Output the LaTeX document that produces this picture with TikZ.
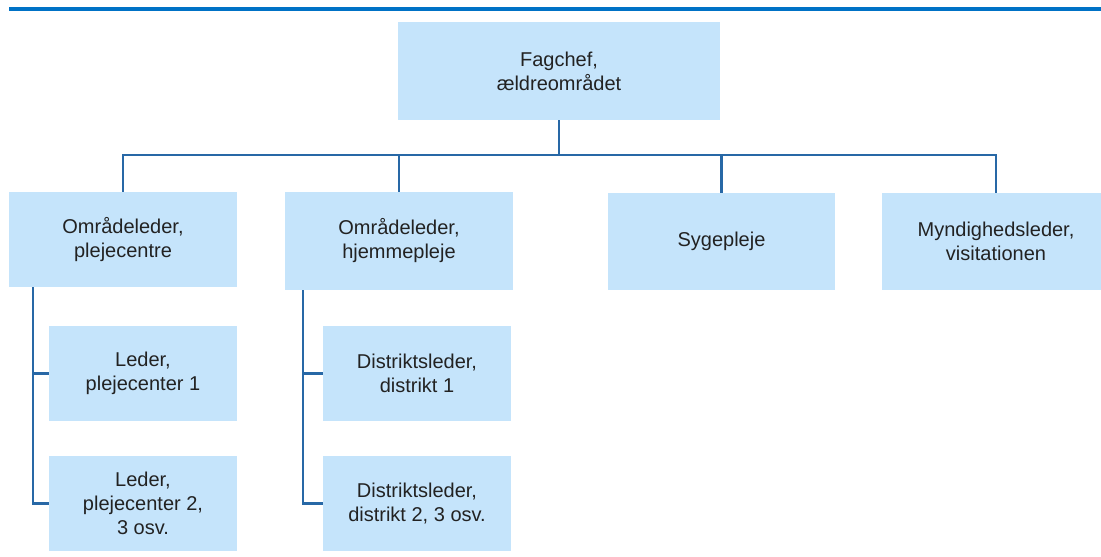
\documentclass[tikz,border=0pt]{standalone}
\usepackage{fontspec}
\setmainfont{Liberation Sans}
\usepackage{tikz}
\definecolor{boxfill}{RGB}{197,228,251}
\definecolor{linkcol}{RGB}{40,104,166}
\definecolor{barcol}{RGB}{0,114,198}
\definecolor{txtcol}{RGB}{34,34,34}
\tikzset{>=latex}
\tikzset{box/.style={fill=boxfill, draw=none, inner sep=0pt, align=center, text=txtcol,
    font=\fontsize{20}{24}\selectfont}}
\tikzset{link/.style={draw=linkcol, line width=2.3pt}}

\begin{document}
\begin{tikzpicture}[x=1pt, y=-1pt]
    \clip(0, 0)rectangle(1101, 557);
    \fill[white](0, 0)rectangle(1101, 557);
    \draw[barcol, line width=4pt](9, 9)--(1101, 9);
    % top level
    \node[box, minimum width=322pt, minimum height=98pt](fagchef)at(559, 71){Fagchef,\\ældreområdet};
    % second level
    \node[box, minimum width=228pt, minimum height=95pt](pleje)at(123, 239.5){Områdeleder,\\plejecentre};
    \node[box, minimum width=228pt, minimum height=98pt](hjem)at(399, 241){Områdeleder,\\hjemmepleje};
    \node[box, minimum width=227pt, minimum height=97pt](syge)at(721.5, 241.5){Sygepleje};
    \node[box, minimum width=228pt, minimum height=97pt](myn)at(996, 241.5){Myndighedsleder,\\visitationen};
    % third level
    \node[box, minimum width=188pt, minimum height=95pt](pc1)at(143, 373.5){Leder,\\plejecenter 1};
    \node[box, minimum width=188pt, minimum height=95pt](pc2)at(143, 503.5){Leder,\\plejecenter 2,\\3 osv.};
    \node[box, minimum width=188pt, minimum height=95pt](dist1)at(417, 373.5){Distriktsleder,\\distrikt 1};
    \node[box, minimum width=188pt, minimum height=95pt](dist2)at(417, 503.5){Distriktsleder,\\distrikt 2, 3 osv.};
    % connectors
    \draw[link](fagchef.south)--++(0, 35)-|(pleje.north);
    \draw[link](fagchef.south)--++(0, 35)-|(hjem.north);
    \draw[link](fagchef.south)--++(0, 35)-|(syge.north);
    \draw[link](fagchef.south)--++(0, 35)-|(myn.north);
    \draw[link]([xshift=24pt]pleje.south west)|-(pc1.west);
    \draw[link]([xshift=24pt]pleje.south west)|-(pc2.west);
    \draw[link]([xshift=18pt]hjem.south west)|-(dist1.west);
    \draw[link]([xshift=18pt]hjem.south west)|-(dist2.west);
\end{tikzpicture}
\end{document}
